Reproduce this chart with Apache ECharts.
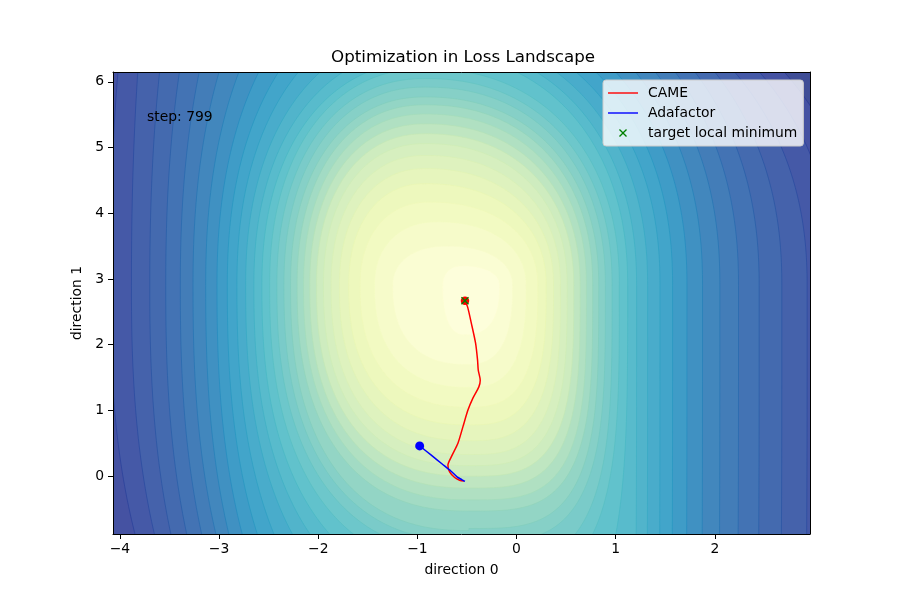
<!DOCTYPE html>
<html>
<head>
<meta charset="utf-8">
<script src="https://cdn.jsdelivr.net/npm/echarts@6/dist/echarts.min.js"></script>
<style>html,body{margin:0;padding:0;background:#fff}#chart{width:900px;height:600px}</style>
</head>
<body>
<div id="chart"></div>
<script>
// ---------- data ----------
const X_TICKS = [-4, -3, -2, -1, 0, 1, 2];
const Y_TICKS = [0, 1, 2, 3, 4, 5, 6];
const X_RANGE = [-4.07, 2.96];
const Y_RANGE = [-0.88, 6.15];

// Contour levels of the loss landscape (level 1 = innermost).
// x where each level crosses the widest row (y = 2.9)
const WIDEST_Y = 2.9;
const LEVEL_X_LEFT = [-0.745, -1.249, -1.433, -1.578, -1.692, -1.786, -1.870, -1.947, -2.017, -2.085,
  -2.148, -2.213, -2.279, -2.346, -2.417, -2.490, -2.568, -2.649, -2.732, -2.820,
  -2.917, -3.021, -3.135, -3.263, -3.391, -3.538, -3.699, -3.884, -4.10, -4.33];
const LEVEL_X_RIGHT = [-0.171, -0.040, 0.098, 0.215, 0.299, 0.373, 0.443, 0.511, 0.577, 0.641,
  0.705, 0.768, 0.829, 0.896, 0.964, 1.037, 1.121, 1.211, 1.322, 1.447,
  1.574, 1.719, 1.876, 2.051, 2.239, 2.447, 2.676, 2.931, 3.20, 3.47];
// upper half: apex height of levels that close inside the plot, else x where they meet the top edge
const LEVEL_TOP_Y = [3.20, 3.50, 3.87, 4.17, 4.45, 4.68, 4.88, 5.06, 5.21, 5.36,
  5.51, 5.65, 5.77, 5.92, 6.05, 6.20, null, null, null, null,
  null, null, null, null, null, null, null, null, null, null];
const TOP_EDGE_X_LEFT = [null, null, null, null, null, null, null, null, null, null,
  null, null, null, null, null, null, -1.50, -1.75, -1.98, -2.20,
  -2.40, -2.60, -2.80, -3.00, -3.20, -3.40, -3.60, -3.82, -4.02, -4.25];
const TOP_EDGE_X_RIGHT = [null, null, null, null, null, null, null, null, null, null,
  null, null, null, null, null, null, 0.00, 0.20, 0.40, 0.60,
  0.80, 1.00, 1.20, 1.40, 1.60, 1.80, 2.00, 2.20, 2.45, 2.70];
// lower half: apex depth of levels that close inside the plot, else x where they cross y = -0.55
const BOTTOM_ROW_Y = -0.55;
const LEVEL_BOTTOM_Y = [2.15, 1.70, 1.35, 1.05, 0.78, 0.54, 0.33, 0.16, 0.00, -0.18,
  -0.36, -0.53, null, null, null, null, null, null, null, null,
  null, null, null, null, null, null, null, null, null, null];
const BOTTOM_ROW_X_LEFT = [null, null, null, null, null, null, null, null, null, null,
  null, null, -1.339, -1.521, -1.692, -1.873, -2.054, -2.216, -2.367, -2.528,
  -2.679, -2.820, -2.950, -3.080, -3.220, -3.370, -3.530, -3.700, -3.900, -4.120];
const BOTTOM_ROW_X_RIGHT = [null, null, null, null, null, null, null, null, null, null,
  null, null, 0.363, 0.544, 0.725, 0.856, 1.037, 1.208, 1.349, 1.531,
  1.702, 1.883, 2.105, 2.337, 2.598, 2.820, 3.05, 3.30, 3.55, 3.80];
// x of the top and bottom apex of each level
const LEVEL_X_TOP = [-0.55, -0.70, -0.80, -0.88, -0.92, -0.92, -0.92, -0.92, -0.92, -0.92,
  -0.92, -0.92, -0.92, -0.92, -0.92, -0.92, -0.92, -0.92, -0.92, -0.92,
  -0.92, -0.92, -0.92, -0.92, -0.92, -0.92, -0.92, -0.92, -0.92, -0.92];
const LEVEL_X_BOTTOM = [-0.52, -0.50, -0.48, -0.48, -0.48, -0.48, -0.48, -0.48, -0.48, -0.48,
  -0.48, -0.48, -0.48, -0.48, -0.48, -0.48, -0.48, -0.48, -0.48, -0.48,
  -0.48, -0.48, -0.48, -0.48, -0.48, -0.48, -0.48, -0.48, -0.48, -0.48];

// Optimizer trajectories (start -> end)
const CAME_PATH = [[-0.53, -0.075], [-0.574, -0.061], [-0.624, -0.020], [-0.675, 0.065], [-0.692, 0.167],
  [-0.658, 0.294], [-0.591, 0.502], [-0.541, 0.750], [-0.490, 1.005], [-0.440, 1.187],
  [-0.380, 1.359], [-0.366, 1.461], [-0.386, 1.613], [-0.393, 1.766], [-0.413, 2.024],
  [-0.456, 2.329], [-0.493, 2.572], [-0.52, 2.67]];
const ADAFACTOR_PATH = [[-0.52, -0.08], [-0.55, -0.055], [-0.60, -0.01], [-0.66, 0.075],
  [-0.75, 0.185], [-0.86, 0.32], [-0.977, 0.46]];
const TARGET_MIN = [[-0.52, 2.67]];
const STEP_LABEL = 'step: 799';
const TITLE = 'Optimization in Loss Landscape';

// ---------- colours (YlGnBu, low = light) ----------
const YLGNBU = ['#ffffd9', '#edf8b1', '#c7e9b4', '#7fcdbb', '#41b6c4', '#1d91c0', '#225ea8', '#253494', '#081d58'];
const STOP_RGB = YLGNBU.map(h => [1, 3, 5].map(i => parseInt(h.slice(i, i + 2), 16)));
const NUM_LEVELS = LEVEL_X_LEFT.length;
const COLOR_SPAN = 33.5;
const FILL_ALPHA = 0.85;
function cmap(v) {
  const t = Math.max(0, Math.min(1, v)) * (STOP_RGB.length - 1);
  const i = Math.min(Math.floor(t), STOP_RGB.length - 2);
  const f = t - i;
  return STOP_RGB[i].map((c, j) => c + (STOP_RGB[i + 1][j] - c) * f);
}
function bandFill(b) {
  const c = cmap((b + 0.5) / COLOR_SPAN);
  return 'rgb(' + c.map(x => Math.round(FILL_ALPHA * x + (1 - FILL_ALPHA) * 255)).join(',') + ')';
}
function bandEdge(b) {
  const c = cmap((b + 0.5) / COLOR_SPAN);
  return 'rgb(' + c.map(x => Math.round(x)).join(',') + ')';
}

// ---------- contour outline through the read positions ----------
const P_TOP = 2.2, P_BOTTOM_LEFT = 2.4;
const clamp = (v, a, b) => Math.max(a, Math.min(b, v));
function apexFromCrossing(x0, xc, xApex, yRow, p) {
  const u = clamp((xc - xApex) / (x0 - xApex), 0, 0.999);
  const v = Math.pow(1 - Math.pow(u, p), 1 / p);
  return WIDEST_Y + (yRow - WIDEST_Y) / v;
}
function arc(cx, cy, dx, dy, p, reverse, n) {
  const pts = [];
  for (let j = 0; j <= n; j++) {
    const t = (reverse ? (n - j) : j) / n * Math.PI / 2;
    const c = Math.pow(Math.max(0, Math.cos(t)), 2 / p);
    const s = Math.pow(Math.max(0, Math.sin(t)), 2 / p);
    pts.push([cx + dx * c, cy + dy * s]);
  }
  return pts;
}
function levelOutline(i) {
  const y0 = WIDEST_Y, xL = LEVEL_X_LEFT[i], xR = LEVEL_X_RIGHT[i];
  const xT = LEVEL_X_TOP[i], xB = LEVEL_X_BOTTOM[i];
  const pBR = Math.min(3.5, 2.4 + 0.1 * (i + 1));
  const yTL = LEVEL_TOP_Y[i] != null ? LEVEL_TOP_Y[i] : apexFromCrossing(xL, TOP_EDGE_X_LEFT[i], xT, Y_RANGE[1], P_TOP);
  const yTR = LEVEL_TOP_Y[i] != null ? LEVEL_TOP_Y[i] : apexFromCrossing(xR, TOP_EDGE_X_RIGHT[i], xT, Y_RANGE[1], P_TOP);
  const yBL = LEVEL_BOTTOM_Y[i] != null ? LEVEL_BOTTOM_Y[i] : apexFromCrossing(xL, BOTTOM_ROW_X_LEFT[i], xB, BOTTOM_ROW_Y, P_BOTTOM_LEFT);
  const yBR = LEVEL_BOTTOM_Y[i] != null ? LEVEL_BOTTOM_Y[i] : apexFromCrossing(xR, BOTTOM_ROW_X_RIGHT[i], xB, BOTTOM_ROW_Y, pBR);
  const N = 120;
  return [].concat(
    arc(xT, y0, xL - xT, yTL - y0, P_TOP, false, N),
    arc(xT, y0, xR - xT, yTR - y0, P_TOP, true, N),
    arc(xB, y0, xR - xB, yBR - y0, pBR, false, N),
    arc(xB, y0, xL - xB, yBL - y0, P_BOTTOM_LEFT, true, N)
  );
}
const levelData = LEVEL_X_LEFT.map((_, i) => [LEVEL_X_BOTTOM[i], WIDEST_Y, i]).reverse();

const FONT = 'DejaVu Sans';
const fmt = v => (v < 0 ? '\u2212' + Math.abs(v) : String(v));
const xSymbol = 'path://M0,1.2L1.2,0L5,3.8L8.8,0L10,1.2L6.2,5L10,8.8L8.8,10L5,6.2L1.2,10L0,8.8L3.8,5Z';
const xLegendIcon = 'path://M-13.75,-3.75h0.01v0.01h-0.01Z M23.75,13.75h0.01v0.01h-0.01Z M0,1.2L1.2,0L5,3.8L8.8,0L10,1.2L6.2,5L10,8.8L8.8,10L5,6.2L1.2,10L0,8.8L3.8,5Z';
const lineLegendIcon = 'path://M0,0H30V1.4H0Z';

const chart = echarts.init(document.getElementById('chart'), null, {renderer: 'canvas'});
const frameAxis = {
  type: 'value', axisLine: {show: true, onZero: false, lineStyle: {color: '#000', width: 1}},
  axisTick: {show: false}, axisLabel: {show: false}, splitLine: {show: false}, z: 10
};
chart.setOption({
  animation: false,
  backgroundColor: '#fff',
  textStyle: {fontFamily: FONT},
  title: {
    text: TITLE, left: 331, top: 49, padding: 0,
    textStyle: {fontFamily: FONT, fontSize: 16.7, fontWeight: 'normal', color: '#000'}
  },
  grid: {left: 113, right: 90, top: 72, bottom: 66, show: true, borderWidth: 0, backgroundColor: bandFill(NUM_LEVELS)},
  legend: {
    data: [
      {name: 'CAME', icon: lineLegendIcon},
      {name: 'Adafactor', icon: lineLegendIcon},
      {name: 'target local minimum', icon: xLegendIcon}
    ],
    orient: 'vertical', left: 603, top: 80,
    padding: [6, 6, 6, 5], itemGap: 6, itemWidth: 30, itemHeight: 14,
    backgroundColor: 'rgba(255,255,255,0.8)', borderColor: '#cccccc', borderWidth: 1, borderRadius: 3,
    selectedMode: false,
    textStyle: {fontFamily: FONT, fontSize: 13.9, color: '#000', padding: [0, 0, 0, 5]}
  },
  xAxis: [{
    type: 'value', min: X_RANGE[0], max: X_RANGE[1], position: 'bottom',
    axisLine: {show: true, onZero: false, lineStyle: {color: '#000', width: 1}},
    axisTick: {show: true, inside: false, length: 5, lineStyle: {color: '#000'}, customValues: X_TICKS},
    axisLabel: {color: '#000', fontFamily: FONT, fontSize: 13.9, margin: 8, formatter: fmt, customValues: X_TICKS},
    splitLine: {show: false},
    name: 'direction 0', nameLocation: 'middle', nameGap: 29,
    nameTextStyle: {fontFamily: FONT, fontSize: 13.9, color: '#000'}, z: 10
  }, Object.assign({position: 'top', min: X_RANGE[0], max: X_RANGE[1]}, frameAxis)],
  yAxis: [{
    type: 'value', min: Y_RANGE[0], max: Y_RANGE[1], position: 'left',
    axisLine: {show: true, onZero: false, lineStyle: {color: '#000', width: 1}},
    axisTick: {show: true, inside: false, length: 5, lineStyle: {color: '#000'}, customValues: Y_TICKS},
    axisLabel: {color: '#000', fontFamily: FONT, fontSize: 13.9, margin: 9, formatter: fmt, customValues: Y_TICKS},
    splitLine: {show: false},
    name: 'direction 1', nameLocation: 'middle', nameGap: 23,
    nameTextStyle: {fontFamily: FONT, fontSize: 13.9, color: '#000'}, z: 10
  }, Object.assign({position: 'right', min: Y_RANGE[0], max: Y_RANGE[1]}, frameAxis)],
  graphic: [{
    type: 'text', left: 147, top: 110, z: 100,
    style: {text: STEP_LABEL, font: '13.9px "DejaVu Sans"', fill: '#000'}
  }],
  series: [
    {
      type: 'custom', name: 'landscape', silent: true, z: 1,
      xAxisIndex: 0, yAxisIndex: 0,
      encode: {x: 0, y: 1},
      data: levelData,
      renderItem: function (params, api) {
        const i = api.value(2);
        const cs = params.coordSys;
        const pts = levelOutline(i).map(p => api.coord(p));
        return {
          type: 'polygon',
          shape: {points: pts},
          style: {fill: bandFill(i), stroke: bandEdge(i), lineWidth: 0.6},
          clipPath: {type: 'rect', shape: {x: cs.x, y: cs.y, width: cs.width, height: cs.height}}
        };
      }
    },
    {
      type: 'line', name: 'CAME', data: CAME_PATH, symbol: 'none', showSymbol: false, smooth: 0.25, z: 5,
      color: '#ff0000', lineStyle: {color: '#ff0000', width: 1.5}
    },
    {
      type: 'line', name: 'Adafactor', data: ADAFACTOR_PATH, symbol: 'none', showSymbol: false, smooth: 0.2, z: 6,
      color: '#0000ff', lineStyle: {color: '#0000ff', width: 1.5}
    },
    {
      type: 'scatter', name: 'CAME end', data: [CAME_PATH[CAME_PATH.length - 1]], symbol: 'circle', symbolSize: 8.5, z: 7,
      itemStyle: {color: '#ff0000', opacity: 1}
    },
    {
      type: 'scatter', name: 'Adafactor end', data: [ADAFACTOR_PATH[ADAFACTOR_PATH.length - 1]], symbol: 'circle', symbolSize: 9, z: 7,
      itemStyle: {color: '#0000ff', opacity: 1}
    },
    {
      type: 'scatter', name: 'target local minimum', data: TARGET_MIN, symbol: xSymbol, symbolSize: 8, z: 8,
      itemStyle: {color: '#008000', opacity: 1}
    }
  ]
});
</script>
</body>
</html>
